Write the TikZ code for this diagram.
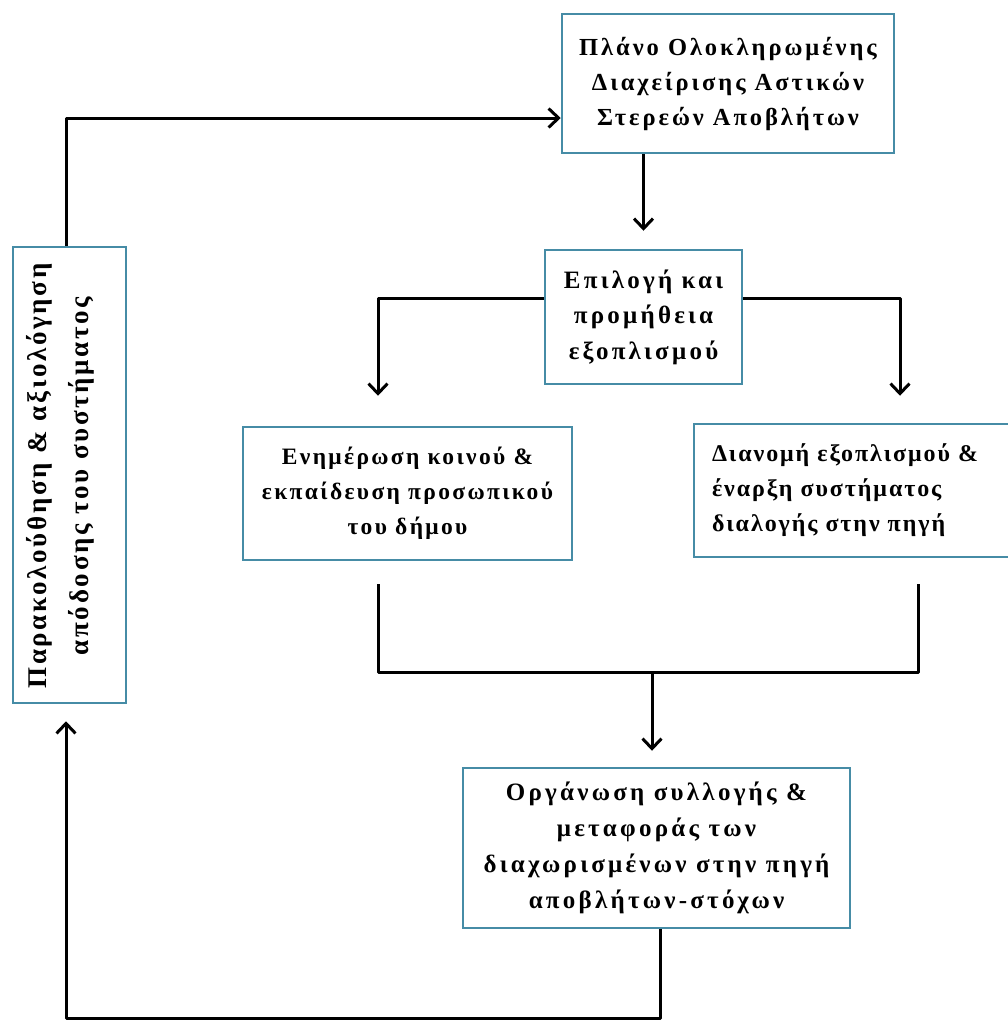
\documentclass[tikz,border=0pt]{standalone}
\usepackage{fontspec}
\setmainfont{Liberation Serif}
\usetikzlibrary{arrows.meta,calc}
\definecolor{bordc}{RGB}{70,140,166}
\tikzset{
  box/.style={draw=bordc, line width=2.5pt, fill=white, inner sep=0pt, align=center},
  gtxt/.style n args={3}{font=\bfseries\fontsize{#2}{#3}\selectfont\addfontfeatures{LetterSpace=#1}},
  ln/.style={line width=3pt, black, line join=round},
  arr/.style={ln, -{Straight Barb[length=10pt,width=19pt]}},
}
\begin{document}
\begin{tikzpicture}[x=1pt,y=-1pt]
\useasboundingbox (0,0) rectangle (1008,1021);
\clip (0,0) rectangle (1008,1021);

\node[box, gtxt={12}{24.5}{35}, minimum width=332pt, minimum height=139pt] (top) at (728,83.5)
  {Πλάνο Ολοκληρωμένης\\Διαχείρισης Αστικών\\Στερεών Αποβλήτων};
\node[box, gtxt={13}{25}{35.5}, minimum width=197pt, minimum height=134pt] (epi) at (643.5,317)
  {Επιλογή και\\προμήθεια\\εξοπλισμού};
\node[box, gtxt={10}{23.5}{35}, minimum width=329pt, minimum height=133pt] (lm) at (407.5,493.5)
  {Ενημέρωση κοινού \&\\εκπαίδευση προσωπικού\\του δήμου};
\node[box, gtxt={8}{24}{35}, text width=290pt, inner xsep=18pt, align=left, minimum height=133pt] (rm) at (857,490.5)
  {Διανομή εξοπλισμού \&\\έναρξη συστήματος\\διαλογής στην πηγή};
\node[box, gtxt={13}{25}{36}, minimum width=387pt, minimum height=160pt] (bot) at (656.5,848)
  {Οργάνωση συλλογής \&\\μεταφοράς των\\διαχωρισμένων στην πηγή\\αποβλήτων-στόχων};
\node[box, minimum width=113pt, minimum height=456pt] (lb) at (69.5,475) {};
\node[gtxt={10}{27}{42}, rotate=90, align=center, inner sep=0pt] (lbt) at (60,476)
  {Παρακολούθηση \& αξιολόγηση\\απόδοσης του συστήματος};

\coordinate (xl) at (378,0);
\coordinate (xr) at (900,0);
\coordinate (xv) at (918,0);
\coordinate (j) at (652,672);
\coordinate (xb) at (660,0);
\coordinate (corner) at (66,1018);
\coordinate (yt) at (0,118);

\draw[arr, shorten >=18pt] (top.south -| epi.north) -- (epi.north);
\draw[arr, shorten >=30pt] ($(epi.west)+(0,-19)$) -| (lm.north -| xl);
\draw[arr, shorten >=27pt] ($(epi.east)+(0,-19)$) -| (rm.north -| xr);
\draw[ln, shorten <=23pt, shorten >=26pt] (lm.south -| xl) |- (j) -| (rm.south -| xv);
\draw[arr, shorten >=16pt] (j) -- (j |- bot.north);
\draw[arr, shorten >=17pt] (bot.south -| xb) |- (corner) -- (lb.south -| corner);
\draw[arr] (lb.north -| corner) |- (top.west |- yt);
\end{tikzpicture}
\end{document}
